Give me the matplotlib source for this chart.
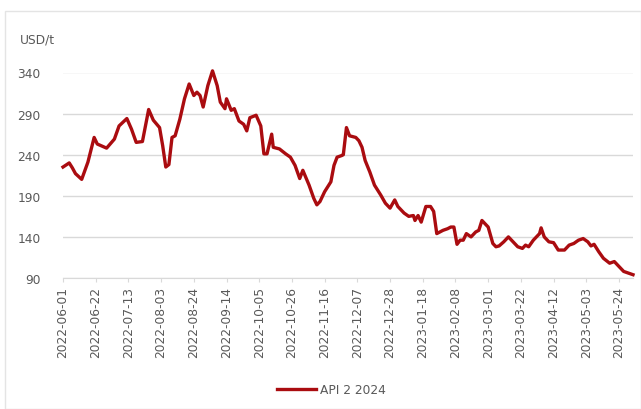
import matplotlib
matplotlib.use("Agg")
import matplotlib.pyplot as plt
from matplotlib.patches import Rectangle
import pandas as pd

dates = [
    "2022-06-01", "2022-06-05", "2022-06-07", "2022-06-09", "2022-06-13", "2022-06-17",
    "2022-06-21", "2022-06-23", "2022-06-29", "2022-07-04", "2022-07-07", "2022-07-12",
    "2022-07-15", "2022-07-18", "2022-07-22", "2022-07-26", "2022-07-29", "2022-08-02",
    "2022-08-04", "2022-08-06", "2022-08-08", "2022-08-10", "2022-08-12", "2022-08-15",
    "2022-08-18", "2022-08-21", "2022-08-24", "2022-08-26", "2022-08-28", "2022-08-30",
    "2022-09-02", "2022-09-05", "2022-09-08", "2022-09-10", "2022-09-13", "2022-09-14",
    "2022-09-17", "2022-09-19", "2022-09-22", "2022-09-25", "2022-09-27", "2022-09-29",
    "2022-10-03", "2022-10-06", "2022-10-08", "2022-10-10", "2022-10-13", "2022-10-14",
    "2022-10-18", "2022-10-22", "2022-10-25", "2022-10-28", "2022-10-31", "2022-11-02",
    "2022-11-06", "2022-11-09", "2022-11-11", "2022-11-13", "2022-11-16", "2022-11-20",
    "2022-11-22", "2022-11-24", "2022-11-27", "2022-11-28", "2022-11-30", "2022-12-02",
    "2022-12-06", "2022-12-08", "2022-12-10", "2022-12-12", "2022-12-15", "2022-12-18",
    "2022-12-22", "2022-12-25", "2022-12-28", "2022-12-31", "2023-01-02", "2023-01-06",
    "2023-01-09", "2023-01-12", "2023-01-13", "2023-01-15", "2023-01-17", "2023-01-20",
    "2023-01-23", "2023-01-25", "2023-01-27", "2023-01-29", "2023-01-31", "2023-02-03",
    "2023-02-05", "2023-02-07", "2023-02-09", "2023-02-11", "2023-02-13", "2023-02-15",
    "2023-02-18", "2023-02-21", "2023-02-23", "2023-02-25", "2023-02-27", "2023-03-01",
    "2023-03-04", "2023-03-06", "2023-03-08", "2023-03-11", "2023-03-14", "2023-03-16",
    "2023-03-20", "2023-03-23", "2023-03-25", "2023-03-27", "2023-03-30", "2023-04-03",
    "2023-04-04", "2023-04-06", "2023-04-09", "2023-04-12", "2023-04-15", "2023-04-19",
    "2023-04-22", "2023-04-25", "2023-04-28", "2023-05-01", "2023-05-04", "2023-05-06",
    "2023-05-08", "2023-05-11", "2023-05-14", "2023-05-18", "2023-05-21", "2023-05-24",
    "2023-05-27", "2023-05-30", "2023-06-02",
]
api2_2024 = [
    225, 230, 224, 217, 210, 231,
    261, 253, 248, 259, 275, 284,
    271, 255, 256, 295, 282, 273,
    251, 225, 228, 261, 263, 283,
    308, 326, 312, 316, 312, 298,
    324, 342, 324, 304, 296, 308,
    294, 296, 281, 277, 269, 285,
    288, 275, 241, 241, 265, 249,
    247, 241, 237, 227, 211, 221,
    203, 187, 179, 183, 195, 207,
    227, 237, 239, 240, 273, 263,
    261, 257, 249, 233, 219, 203,
    191, 181, 175, 185, 177, 169,
    165, 166, 160, 166, 158, 177,
    177, 171, 144, 146, 148, 150,
    152, 152, 131, 136, 136, 144,
    140, 146, 148, 160, 156, 152,
    132, 128, 129, 134, 140, 136,
    128, 126, 130, 128, 136, 144,
    151, 140, 134, 133, 124, 124,
    130, 132, 136, 138, 134, 129,
    131, 122, 114, 108, 110, 104,
    98, 96, 94,
]
tick_labels = [
    "2022-06-01", "2022-06-22", "2022-07-13", "2022-08-03", "2022-08-24", "2022-09-14",
    "2022-10-05", "2022-10-26", "2022-11-16", "2022-12-07", "2022-12-28", "2023-01-18",
    "2023-02-08", "2023-03-01", "2023-03-22", "2023-04-12", "2023-05-03", "2023-05-24",
]
y_ticks = [90, 140, 190, 240, 290, 340]

W, H = 641, 410
fig = plt.figure(figsize=(W / 100, H / 100), dpi=100)
fig.patch.set_facecolor("white")

# outer light frame
fig.patches.append(Rectangle((5 / W, 0.0), 1 - 5 / W, 1 - 12 / H, transform=fig.transFigure,
                             fill=False, edgecolor="#e4e4e4", linewidth=1.0))

left, right = 63 / W, 633 / W
bottom, top = 1 - 279 / H, 1 - 73.5 / H
ax = fig.add_axes([left, bottom, right - left, top - bottom])

x = pd.to_datetime(dates)
ax.plot(x, api2_2024, color="#aa0c10", linewidth=2.4, clip_on=False,
        solid_joinstyle="round", label="API 2 2024", zorder=3)

ax.set_ylim(90, 340)
ax.set_yticks(y_ticks)
ax.set_xlim(pd.Timestamp("2022-06-01"), pd.Timestamp("2023-06-02"))
ticks = pd.to_datetime(tick_labels)
ax.set_xticks(ticks)
ax.set_xticklabels(tick_labels, rotation=90)

ax.grid(axis="y", color="#d9d9d9", linewidth=1.0)
ax.set_axisbelow(True)
for s in ["top", "right", "left"]:
    ax.spines[s].set_visible(False)
ax.spines["bottom"].set_color("#d9d9d9")
ax.tick_params(axis="y", length=0, pad=16, labelsize=8.8, labelcolor="#595959")
ax.tick_params(axis="x", length=3, color="#d9d9d9", pad=3, labelsize=8.8, labelcolor="#595959")

fig.text(20 / W, 1 - 40 / H, "USD/t", fontsize=8.8, color="#595959", va="center", ha="left")

leg = fig.legend(loc="center", bbox_to_anchor=(0.517, 1 - 391 / H), frameon=False,
                 fontsize=8.8, handlelength=3.2, handletextpad=0.3)
for t in leg.get_texts():
    t.set_color("#595959")

fig.savefig("out.png", dpi=100)
